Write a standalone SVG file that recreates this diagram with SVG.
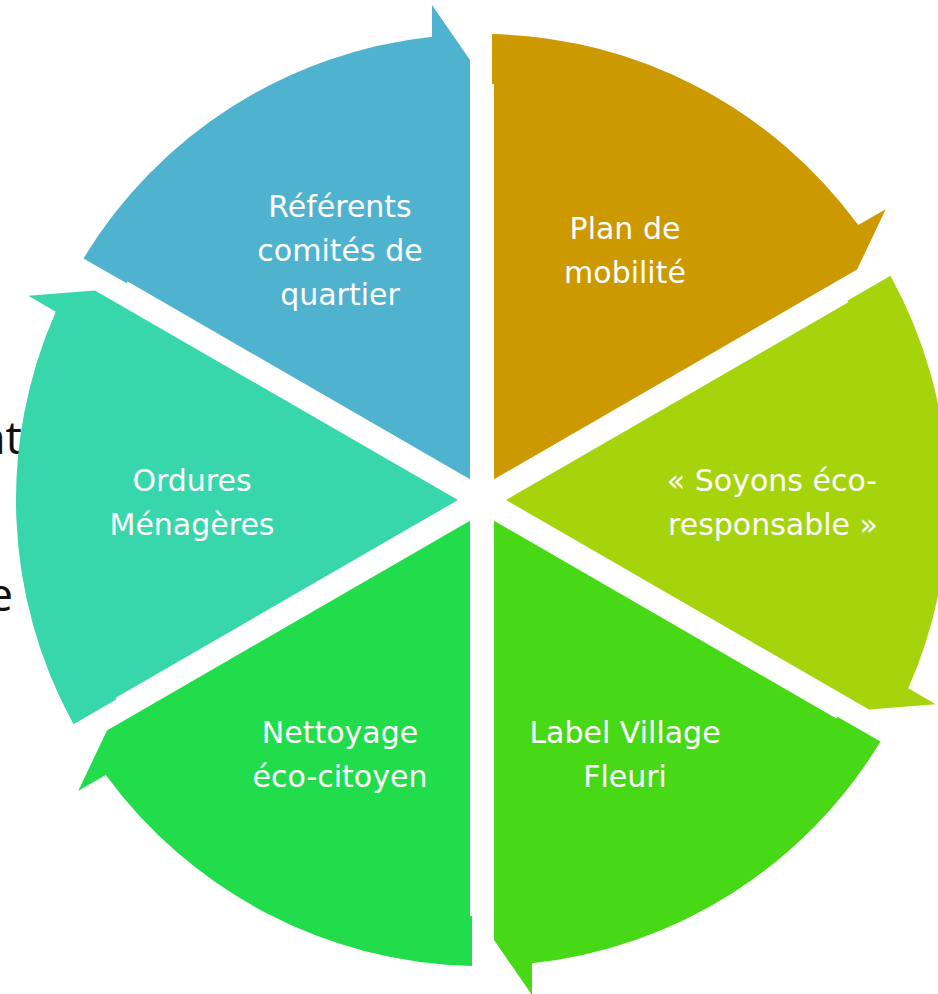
<svg xmlns="http://www.w3.org/2000/svg" width="938" height="994" viewBox="0 0 938 994">
<style>
.lbl{font-family:"DejaVu Sans","Verdana",sans-serif;font-size:30px;fill:#ffffff;text-anchor:middle}
.bg{font-family:"Open Sans","Liberation Sans",sans-serif;font-size:46px;fill:#111111;text-anchor:end}
</style>
<defs>
<path id="seg" d="M-12,-20.78 L-12,-440 L-50,-495 L-50,-463.3 A466,466 0 0 0 -398.5,-241.6 L-355.3,-216.7 L-354.3,-218.4 Z"/>
</defs>
<rect width="938" height="994" fill="#ffffff"/>
<g id="background-text">
<text class="bg" x="22" y="454">nt</text>
<text class="bg" x="13" y="611">e</text>
</g>
<g id="connectors"></g>
<g id="node-referents">
<use href="#seg" transform="translate(482 500) rotate(0)" fill="#4fb2cf"/>
<text class="lbl" x="340" y="217">Référents</text>
<text class="lbl" x="340" y="261">comités de</text>
<text class="lbl" x="340" y="305">quartier</text>
</g>
<g id="node-plan">
<use href="#seg" transform="translate(482 500) rotate(60)" fill="#cc9900"/>
<text class="lbl" x="625" y="239">Plan de</text>
<text class="lbl" x="625" y="283">mobilité</text>
</g>
<g id="node-soyons">
<use href="#seg" transform="translate(482 500) rotate(120)" fill="#a5d40c"/>
<text class="lbl" x="772" y="491">« Soyons éco-</text>
<text class="lbl" x="773" y="535">responsable »</text>
</g>
<g id="node-label">
<use href="#seg" transform="translate(482 500) rotate(180)" fill="#47d916"/>
<text class="lbl" x="625" y="743">Label Village</text>
<text class="lbl" x="625" y="787">Fleuri</text>
</g>
<g id="node-nettoyage">
<use href="#seg" transform="translate(482 500) rotate(240)" fill="#21dd4b"/>
<text class="lbl" x="340" y="743">Nettoyage</text>
<text class="lbl" x="340" y="787">éco-citoyen</text>
</g>
<g id="node-ordures">
<use href="#seg" transform="translate(482 500) rotate(300)" fill="#38d6ab"/>
<text class="lbl" x="192" y="491">Ordures</text>
<text class="lbl" x="192" y="535">Ménagères</text>
</g>
</svg>
